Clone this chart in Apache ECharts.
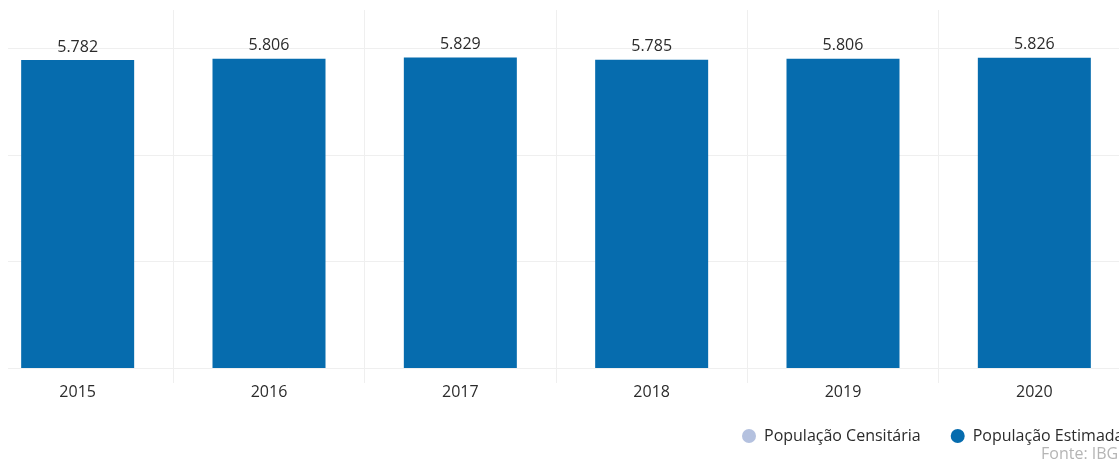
<!DOCTYPE html>
<html>
<head>
<meta charset="utf-8">
<style>
  html, body { margin: 0; padding: 0; background: #fff; overflow: hidden; width: 1119px; height: 466px; }
  /* the drawing is wider than the window and starts a little to the left of it */
  #chart { position: absolute; left: -18px; top: 0; width: 1148px; height: 466px; }
</style>
<script src="https://cdn.jsdelivr.net/npm/echarts@6/dist/echarts.min.js"></script>
</head>
<body>
<div id="chart"></div>
<script>
// Population by year (inhabitants)
const years = ['2015', '2016', '2017', '2018', '2019', '2020'];
const estimada = [5782, 5806, 5829, 5785, 5806, 5826];
const censitaria = [];
const yTicks = { min: 0, max: 6000, interval: 2000 };

const FONT = '"Open Sans", "Noto Sans", sans-serif';
const BLUE = '#066cae';
const CENSO = '#b4c1df';
const GRID_LINE = '#efefef';

// Brazilian thousands separator: 5782 -> "5.782"
function fmt(v) {
  return String(v).replace(/\B(?=(\d{3})+(?!\d))/g, '.');
}

const chart = echarts.init(document.getElementById('chart'), null, { renderer: 'canvas' });
chart.setOption({
  animation: false,
  backgroundColor: '#fff',
  textStyle: { fontFamily: FONT },
  grid: [
    // bars
    { left: 0, right: 0, top: 48.4, bottom: 98, containLabel: false },
    // category separators, taller than the plot
    { left: 0, right: 0, top: 10, bottom: 83, containLabel: false },
    // horizontal value lines
    { left: 26, right: 0, top: 48.4, bottom: 98, containLabel: false }
  ],
  xAxis: [
    {
      type: 'category', gridIndex: 0, data: years,
      axisLine: { show: false }, axisTick: { show: false },
      axisLabel: { color: '#2b2b2b', fontSize: 16, fontFamily: FONT, margin: 16 },
      splitLine: { show: false }
    },
    {
      type: 'category', gridIndex: 1, data: years,
      axisLine: { show: false }, axisTick: { show: false }, axisLabel: { show: false },
      splitLine: { show: true, lineStyle: { color: GRID_LINE, width: 1 } }
    },
    { type: 'category', gridIndex: 2, data: years, show: false }
  ],
  yAxis: [
    {
      type: 'value', gridIndex: 0,
      min: yTicks.min, max: yTicks.max, interval: yTicks.interval,
      show: false, splitLine: { show: false }
    },
    { type: 'value', gridIndex: 1, show: false, min: 0, max: 1, splitLine: { show: false } },
    {
      type: 'value', gridIndex: 2,
      min: yTicks.min, max: yTicks.max, interval: yTicks.interval,
      axisLabel: { show: false }, axisLine: { show: false }, axisTick: { show: false },
      splitLine: { show: true, lineStyle: { color: GRID_LINE, width: 1 } }
    }
  ],
  legend: {
    left: 755, top: 423,
    icon: 'circle', itemWidth: 14, itemHeight: 14, itemGap: 30,
    textStyle: { color: '#2b2b2b', fontSize: 16, fontFamily: FONT, padding: [0, 0, 0, 3] },
    data: ['População Censitária', 'População Estimada']
  },
  title: {
    text: 'Fonte: IBGE', left: 1054, top: 441,
    textStyle: { color: '#b5b5b5', fontSize: 16, fontWeight: 'normal', fontFamily: FONT }
  },
  series: [
    {
      name: 'População Censitária', type: 'line', xAxisIndex: 0, yAxisIndex: 0,
      data: censitaria, itemStyle: { color: CENSO }, lineStyle: { color: CENSO }
    },
    {
      name: 'População Estimada', type: 'bar', xAxisIndex: 0, yAxisIndex: 0,
      data: estimada, barWidth: 113,
      itemStyle: { color: BLUE },
      label: {
        show: true, position: 'top', distance: 5,
        color: '#2b2b2b', fontSize: 16, fontFamily: FONT,
        formatter: p => fmt(p.value)
      }
    }
  ]
});
</script>
</body>
</html>
